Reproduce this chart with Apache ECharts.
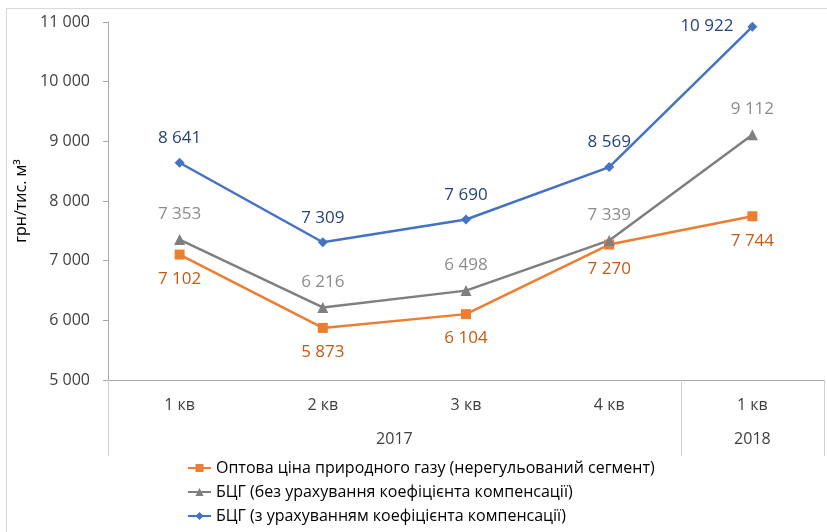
<!DOCTYPE html>
<html>
<head>
<meta charset="utf-8">
<script src="https://cdn.jsdelivr.net/npm/echarts@6/dist/echarts.min.js"></script>
<style>
    body { margin: 0; background: #fff; }
    #chart { width: 827px; height: 532px; }
    #frame { position: absolute; left: 6px; top: 8px; width: 840px; height: 540px; border: 1px solid #d9d9d9; pointer-events: none; }
</style>
</head>
<body>
<div id="chart"></div>
<div id="frame"></div>
<script>
const quarters = ["1 кв", "2 кв", "3 кв", "4 кв", "1 кв"]
// year row: 11 half-step slots across the same width
const yearSlots = ["", "", "", "", "2017", "", "", "", "", "2018", ""]
const yearTicks = [0, 8, 10]

const wholesale = [7102, 5873, 6104, 7270, 7744]
const bcgNoComp = [7353, 6216, 6498, 7339, 9112]
const bcgComp = [8641, 7309, 7690, 8569, 10922]

const seriesNames = [
    "Оптова ціна природного газу (нерегульований сегмент)",
    "БЦГ (без урахування коефіцієнта компенсації)",
    "БЦГ (з урахуванням коефіцієнта компенсації)",
]

const font = "Open Sans, Liberation Sans, sans-serif"
const fmt = (v) => String(v).replace(/\B(?=(\d{3})+(?!\d))/g, " ")

const chart = echarts.init(document.getElementById("chart"))

let option = {
    animation: false,
    textStyle: { fontFamily: font },
    grid: {
        left: 108,
        right: -1,
        top: 22,
        bottom: 152,
    },
    legend: {
        orient: "vertical",
        left: 182,
        top: 455,
        itemGap: 8,
        itemWidth: 23,
        itemHeight: 10,
        data: [seriesNames[0], seriesNames[1], seriesNames[2]],
        textStyle: { fontSize: 16, color: "#000", fontFamily: font },
    },
    xAxis: [
        {
            type: "category",
            data: quarters,
            boundaryGap: true,
            axisLine: { lineStyle: { color: "#a6a6a6" } },
            axisTick: { length: 42, lineStyle: { color: "#d0d0d0" } },
            axisLabel: { color: "#404040", fontSize: 16, margin: 17 },
        },
        {
            type: "category",
            position: "bottom",
            data: yearSlots,
            boundaryGap: false,
            axisLine: { show: false },
            axisTick: {
                length: 76,
                interval: (i) => yearTicks.includes(i),
                lineStyle: { color: "#d0d0d0" },
            },
            axisLabel: { interval: 0, color: "#404040", fontSize: 16, margin: 51 },
        },
    ],
    yAxis: {
        type: "value",
        min: 5000,
        max: 11000,
        interval: 1000,
        name: "грн/тис. м³",
        nameLocation: "middle",
        nameGap: 77,
        nameTextStyle: { fontSize: 16, color: "#000" },
        splitLine: { show: false },
        axisLine: { show: true, lineStyle: { color: "#a6a6a6" } },
        axisTick: { show: true, length: 5, lineStyle: { color: "#a6a6a6" } },
        axisLabel: { color: "#404040", fontSize: 16, margin: 18, formatter: fmt },
    },
    series: [
        {
            name: seriesNames[0],
            type: "line",
            data: wholesale,
            symbol: "rect",
            symbolSize: 10,
            color: "#ED7D31",
            lineStyle: { width: 2.5, color: "#ED7D31" },
            label: {
                show: true,
                position: "bottom",
                distance: 11,
                fontSize: 17,
                color: "#C55A11",
                formatter: (p) => fmt(p.value),
            },
        },
        {
            name: seriesNames[1],
            type: "line",
            data: bcgNoComp,
            symbol: "triangle",
            symbolSize: 11,
            color: "#7F7F7F",
            lineStyle: { width: 2.5, color: "#7F7F7F" },
            label: {
                show: true,
                position: "top",
                distance: 11,
                fontSize: 17,
                color: "#8C8C8C",
                formatter: (p) => fmt(p.value),
            },
        },
        {
            name: seriesNames[2],
            type: "line",
            data: bcgComp.map((v, i) =>
                i === bcgComp.length - 1 ? { value: v, label: { position: "left", distance: 14 } } : v
            ),
            symbol: "diamond",
            symbolSize: 10,
            color: "#4472C4",
            lineStyle: { width: 2.5, color: "#4472C4" },
            label: {
                show: true,
                position: "top",
                distance: 11,
                fontSize: 17,
                color: "#264478",
                formatter: (p) => fmt(p.value),
            },
        },
    ],
}

chart.setOption(option)
</script>
</body>
</html>
